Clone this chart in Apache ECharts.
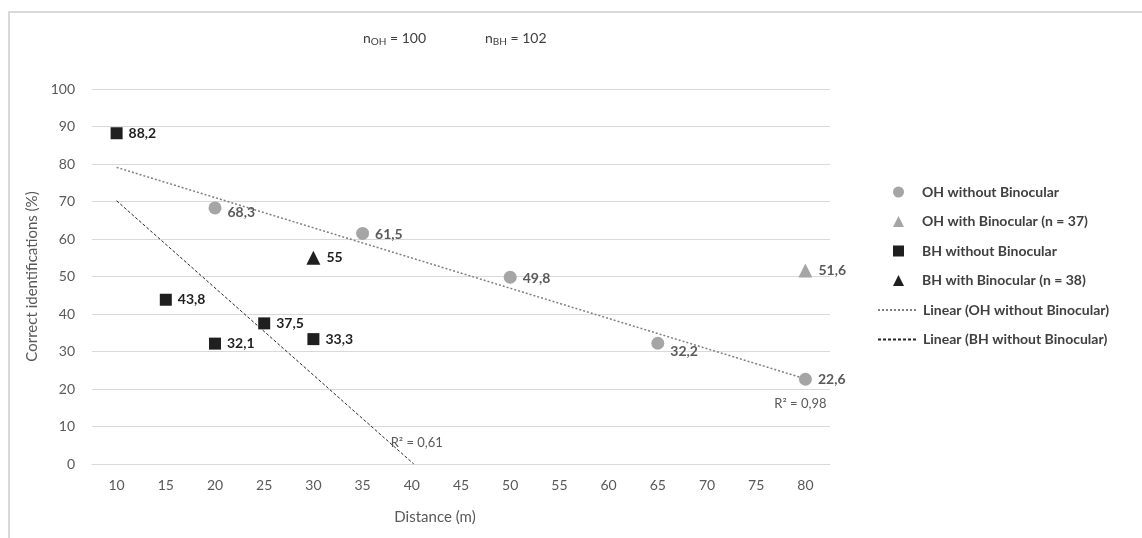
<!DOCTYPE html>
<html>
<head>
<meta charset="utf-8">
<script src="https://cdn.jsdelivr.net/npm/echarts@6/dist/echarts.min.js"></script>
<style>
html,body{margin:0;padding:0;background:#fff;}
#frame{position:absolute;left:8px;top:11px;width:1200px;height:600px;border-left:2px solid #D9D9D9;border-top:2px solid #D9D9D9;}
#chart{position:absolute;left:0;top:0;width:1142px;height:538px;}
</style>
</head>
<body>
<div id="frame"></div>
<div id="chart"></div>
<script>
// Data
const distances = ['10','15','20','25','30','35','40','45','50','55','60','65','70','75','80'];
const ohWithout = [[20, 68.3], [35, 61.5], [50, 49.8], [65, 32.2], [80, 22.6]];
const ohWith = [[80, 51.6]];
const bhWithout = [[10, 88.2], [15, 43.8], [20, 32.1], [25, 37.5], [30, 33.3]];
const bhWith = [[30, 55]];
const ohTrend = [[10, 79.1], [80, 22.7]];
const bhTrend = [[10, 70.2], [40.2, 0]];
const r2OH = 'R² = 0,98';
const r2BH = 'R² = 0,61';
const nOH = 100, nBH = 102;

const FONT = 'Lato, "Open Sans", sans-serif';
const GRAY = '#A5A5A5', BLACK = '#1F1F1F';
const fmt = v => String(v).replace('.', ',');

function ptLabels(arr, color, offsets) {
  return arr.map((p, i) => ({
    value: p,
    label: {
      show: true, position: 'right', distance: 6,
      formatter: fmt(p[1]), color: color, fontWeight: 'bold', fontSize: 14, fontFamily: FONT,
      offset: offsets ? offsets[i] : [0, 0]
    }
  }));
}

const legendText = { fontSize: 14, fontWeight: 'bold', color: '#404040', fontFamily: FONT };

const chart = echarts.init(document.getElementById('chart'));
chart.setOption({
  animation: false,
  textStyle: { fontFamily: FONT },
  grid: { left: 92, right: 312, top: 89, bottom: 74, containLabel: false },
  graphic: [{
    type: 'text', left: 363, top: 31,
    style: {
      text: '{n|n}{s|OH}{n| = ' + nOH + '}',
      rich: {
        n: { fontSize: 14, fontFamily: FONT, fill: '#404040' },
        s: { fontSize: 10, fontFamily: FONT, fill: '#404040', padding: [8, 0, 0, 0] }
      }
    }
  }, {
    type: 'text', left: 485, top: 31,
    style: {
      text: '{n|n}{s|BH}{n| = ' + nBH + '}',
      rich: {
        n: { fontSize: 14, fontFamily: FONT, fill: '#404040' },
        s: { fontSize: 10, fontFamily: FONT, fill: '#404040', padding: [8, 0, 0, 0] }
      }
    }
  }],
  legend: [{
    orient: 'vertical', left: 888, top: 180, itemGap: 15.5,
    itemWidth: 11, itemHeight: 11,
    textStyle: Object.assign({ padding: [0, 0, 0, 13] }, legendText),
    data: [
      { name: 'OH without Binocular', icon: 'circle' },
      { name: 'OH with Binocular (n = 37)', icon: 'triangle' },
      { name: 'BH without Binocular', icon: 'rect' },
      { name: 'BH with Binocular (n = 38)', icon: 'triangle' }
    ]
  }, {
    orient: 'vertical', left: 872, top: 298, itemGap: 15.5,
    itemWidth: 40, itemHeight: 11,
    textStyle: legendText,
    data: [
      { name: 'Linear (OH without Binocular)', itemStyle: { opacity: 0 } },
      { name: 'Linear (BH without Binocular)', itemStyle: { opacity: 0 } }
    ]
  }],
  xAxis: [{
    type: 'category', data: distances, boundaryGap: true,
    name: 'Distance (m)', nameLocation: 'middle', nameGap: 46,
    nameTextStyle: { fontSize: 15, color: '#595959', fontFamily: FONT, padding: [0, 52, 0, 0] },
    axisLine: { show: true, lineStyle: { color: '#D9D9D9' } },
    axisTick: { show: false },
    axisLabel: { fontSize: 14, color: '#595959', margin: 14, fontFamily: FONT },
    splitLine: { show: false }
  }, {
    type: 'value', min: 7.5, max: 82.5, show: false
  }],
  yAxis: {
    type: 'value', min: 0, max: 100, interval: 10,
    name: 'Correct identifications (%)', nameLocation: 'middle', nameGap: 52,
    nameTextStyle: { fontSize: 15, color: '#595959', fontFamily: FONT },
    axisLine: { show: false }, axisTick: { show: false },
    axisLabel: { fontSize: 14, color: '#595959', margin: 17, fontFamily: FONT },
    splitLine: { lineStyle: { color: '#D9D9D9', width: 1 } }
  },
  series: [{
    name: 'Linear (OH without Binocular)', type: 'line', xAxisIndex: 1,
    data: ohTrend.map((p, i) => i === ohTrend.length - 1 ? {
      value: p, label: { show: true, position: 'bottom', distance: 8, offset: [-5, 10], formatter: r2OH,
        color: '#595959', fontSize: 13, fontFamily: FONT } } : p),
    symbol: 'circle', symbolSize: 0, lineStyle: { color: '#7F7F7F', width: 1.5, type: [2, 2] },
    itemStyle: { color: '#7F7F7F' }, z: 1, silent: true
  }, {
    name: 'Linear (BH without Binocular)', type: 'line', xAxisIndex: 1,
    data: bhTrend.map((p, i) => i === bhTrend.length - 1 ? {
      value: p, label: { show: true, position: 'top', distance: 10, offset: [3, -5], formatter: r2BH,
        color: '#595959', fontSize: 13, fontFamily: FONT } } : p),
    symbol: 'circle', symbolSize: 0, lineStyle: { color: '#262626', width: 1, type: [3, 2] },
    itemStyle: { color: '#262626' }, z: 1, silent: true
  }, {
    name: 'OH without Binocular', type: 'scatter', xAxisIndex: 1,
    symbol: 'circle', symbolSize: 13, itemStyle: { color: GRAY, opacity: 1 },
    data: ptLabels(ohWithout, '#595959', [[0, 5], [0, 1], [0, 1], [0, 8], [0, 0]]), z: 3
  }, {
    name: 'OH with Binocular (n = 37)', type: 'scatter', xAxisIndex: 1,
    symbol: 'triangle', symbolSize: 14, itemStyle: { color: GRAY, opacity: 1 },
    data: ptLabels(ohWith, '#595959'), z: 3
  }, {
    name: 'BH without Binocular', type: 'scatter', xAxisIndex: 1,
    symbol: 'rect', symbolSize: 12, itemStyle: { color: BLACK, opacity: 1 },
    data: ptLabels(bhWithout, BLACK), z: 3
  }, {
    name: 'BH with Binocular (n = 38)', type: 'scatter', xAxisIndex: 1,
    symbol: 'triangle', symbolSize: 14, itemStyle: { color: BLACK, opacity: 1 },
    data: ptLabels(bhWith, BLACK), z: 3
  }]
});
</script>
</body>
</html>
